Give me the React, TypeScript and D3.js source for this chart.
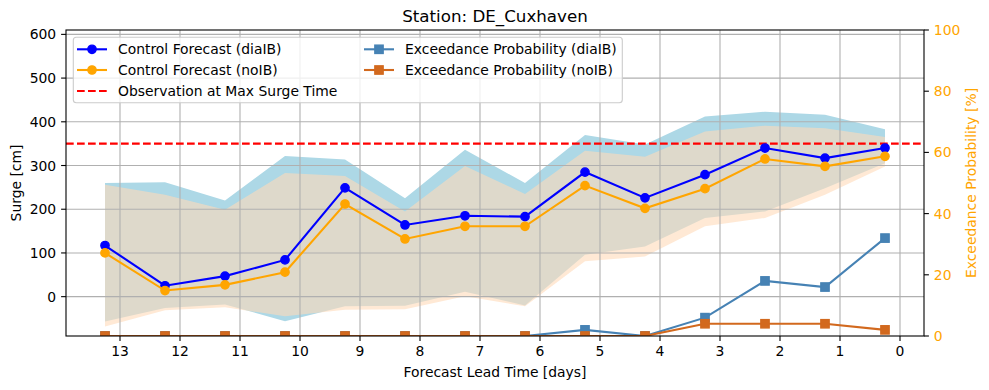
import React from 'react';
import * as d3 from 'd3';

// forecast lead times (days before max surge)
const leadTimes = [13.25, 12.25, 11.25, 10.25, 9.25, 8.25, 7.25, 6.25, 5.25, 4.25, 3.25, 2.25, 1.25, 0.25];

// surge [cm]
const diaIBControl = [117, 25, 47, 84, 249, 164, 185, 183, 285, 226, 279, 340, 317, 340];
const noIBControl = [100, 14, 27, 56, 212, 132, 161, 161, 254, 202, 247, 315, 298, 321];
const diaIBUpper = [260, 262, 220, 322, 314, 225, 336, 260, 370, 348, 412, 423, 416, 383];
const diaIBLower = [-57, -26, -18, -56, -22, -21, 11, -20, 96, 115, 180, 195, 248, 305];
const noIBUpper = [256, 233, 199, 283, 276, 195, 299, 235, 334, 320, 378, 391, 385, 365];
const noIBLower = [-68, -31, -24, -45, -30, -29, 1, -22, 81, 92, 161, 180, 233, 298];

// exceedance probability [%]
const diaIBExceed = [0, 0, 0, 0, 0, 0, 0, 0, 2, 0, 6, 18, 16, 32];
const noIBExceed = [0, 0, 0, 0, 0, 0, 0, 0, 0, 0, 4, 4, 4, 2];

const observation = 350;

const xTicks = [13, 12, 11, 10, 9, 8, 7, 6, 5, 4, 3, 2, 1, 0];
const yTicks = [0, 100, 200, 300, 400, 500, 600];
const pTicks = [0, 20, 40, 60, 80, 100];

const W = 989;
const H = 390;
const left = 66, right = 924, top = 30, bottom = 336;
const font = 'DejaVu Sans';
const fs = 13.9;
const tick = 4.9;

const App = () => {
  const x = d3.scaleLinear().domain([13.9, -0.4]).range([left, right]);
  const y = d3.scaleLinear().domain([-90, 610]).range([bottom, top]);
  const yp = d3.scaleLinear().domain([0, 100]).range([bottom, top]);

  const band = (lo: number[], hi: number[]) =>
    d3.area<number>()
      .x((d, i) => x(leadTimes[i]))
      .y0((d, i) => y(lo[i]))
      .y1((d, i) => y(hi[i]))(leadTimes) as string;

  const line = (vals: number[], sc: d3.ScaleLinear<number, number>) =>
    d3.line<number>()
      .x((d, i) => x(leadTimes[i]))
      .y((d) => sc(d))(vals) as string;

  const ms = 8.3;
  const mew = 1.4;

  const legendRows = [
    { col: 0, row: 0, color: 'blue', marker: 'circle', label: 'Control Forecast (diaIB)' },
    { col: 0, row: 1, color: 'orange', marker: 'circle', label: 'Control Forecast (noIB)' },
    { col: 0, row: 2, color: 'red', marker: 'dash', label: 'Observation at Max Surge Time' },
    { col: 1, row: 0, color: 'steelblue', marker: 'square', label: 'Exceedance Probability (diaIB)' },
    { col: 1, row: 1, color: 'chocolate', marker: 'square', label: 'Exceedance Probability (noIB)' },
  ];
  const colX = [77, 364];
  const rowY = [49.3, 70, 91];

  const circle = (cx: number, cy: number, c: string, k: string) =>
    <circle key={k} cx={cx} cy={cy} r={ms / 2} fill={c} stroke={c} strokeWidth={mew} />;
  const square = (cx: number, cy: number, c: string, k: string) =>
    <rect key={k} x={cx - ms / 2} y={cy - ms / 2} width={ms} height={ms} fill={c} stroke={c} strokeWidth={mew} />;

  return (
    <svg width={W} height={H} style={{ position: 'absolute', left: 0, top: 0, background: 'white' }}
      fontFamily={font}>
      <defs>
        <clipPath id="plot">
          <rect x={left} y={top} width={right - left} height={bottom - top} />
        </clipPath>
      </defs>

      {/* spread bands */}
      <g clipPath="url(#plot)">
        <path d={band(diaIBLower, diaIBUpper)} fill="lightblue" />
        <path d={band(noIBLower, noIBUpper)} fill="peachpuff" fillOpacity={0.6} />
      </g>

      {/* grid */}
      <g stroke="#b0b0b0" strokeWidth={1.1}>
        {xTicks.map(t => <line key={'gx' + t} x1={x(t)} x2={x(t)} y1={top} y2={bottom} />)}
        {yTicks.map(t => <line key={'gy' + t} x1={left} x2={right} y1={y(t)} y2={y(t)} />)}
      </g>

      <g clipPath="url(#plot)">
        <line x1={left} x2={right} y1={y(observation)} y2={y(observation)}
          stroke="red" strokeWidth={2.1} strokeDasharray="7.7 3.3" />
        <path d={line(diaIBControl, y)} fill="none" stroke="blue" strokeWidth={2.1} />
        {diaIBControl.map((v, i) => circle(x(leadTimes[i]), y(v), 'blue', 'b' + i))}
        <path d={line(noIBControl, y)} fill="none" stroke="orange" strokeWidth={2.1} />
        {noIBControl.map((v, i) => circle(x(leadTimes[i]), y(v), 'orange', 'o' + i))}

        <path d={line(diaIBExceed, yp)} fill="none" stroke="steelblue" strokeWidth={2.1} />
        {diaIBExceed.map((v, i) => square(x(leadTimes[i]), yp(v), 'steelblue', 'sb' + i))}
        <path d={line(noIBExceed, yp)} fill="none" stroke="chocolate" strokeWidth={2.1} />
        {noIBExceed.map((v, i) => square(x(leadTimes[i]), yp(v), 'chocolate', 'sc' + i))}
      </g>

      {/* frame */}
      <rect x={left} y={top} width={right - left} height={bottom - top} fill="none" stroke="black" strokeWidth={1.1} />

      {/* x axis */}
      <g fontSize={fs} textAnchor="middle">
        {xTicks.map(t => (
          <g key={'xt' + t}>
            <line x1={x(t)} x2={x(t)} y1={bottom} y2={bottom + tick} stroke="black" strokeWidth={1.1} />
            <text x={x(t)} y={bottom + tick * 2} dy="0.76em">{t}</text>
          </g>
        ))}
        <text x={(left + right) / 2} y={377}>Forecast Lead Time [days]</text>
      </g>

      {/* left y axis */}
      <g fontSize={fs} textAnchor="end">
        {yTicks.map(t => (
          <g key={'yt' + t}>
            <line x1={left - tick} x2={left} y1={y(t)} y2={y(t)} stroke="black" strokeWidth={1.1} />
            <text x={left - tick * 2} y={y(t)} dy="0.36em">{t}</text>
          </g>
        ))}
        <text transform={`translate(21,${(top + bottom) / 2}) rotate(-90)`} textAnchor="middle">Surge [cm]</text>
      </g>

      {/* right y axis */}
      <g fontSize={fs} textAnchor="start" fill="orange">
        {pTicks.map(t => (
          <g key={'pt' + t}>
            <line x1={right} x2={right + tick} y1={yp(t)} y2={yp(t)} stroke="black" strokeWidth={1.1} />
            <text x={right + tick * 2} y={yp(t)} dy="0.36em">{t}</text>
          </g>
        ))}
        <text transform={`translate(976,${(top + bottom) / 2}) rotate(-90)`} textAnchor="middle">Exceedance Probability [%]</text>
      </g>

      {/* title */}
      <text x={(left + right) / 2} y={22} textAnchor="middle" fontSize={16.7}>Station: DE_Cuxhaven</text>

      {/* legend */}
      <g>
        <rect x={73.3} y={37.3} width={549} height={65.5} rx={3} fill="white" fillOpacity={0.8} stroke="#cccccc" strokeWidth={1.1} />
        {legendRows.map(r => {
          const lx = colX[r.col];
          const ly = rowY[r.row];
          return (
            <g key={r.label}>
              <line x1={lx} x2={lx + 30} y1={ly} y2={ly} stroke={r.color} strokeWidth={2.1}
                strokeDasharray={r.marker === 'dash' ? '7.7 3.3' : undefined} />
              {r.marker === 'circle' && circle(lx + 15, ly, r.color, 'lc')}
              {r.marker === 'square' && square(lx + 15, ly, r.color, 'ls')}
              <text x={lx + 41} y={ly} dy="0.36em" fontSize={fs}>{r.label}</text>
            </g>
          );
        })}
      </g>
    </svg>
  );
};

export default App;
